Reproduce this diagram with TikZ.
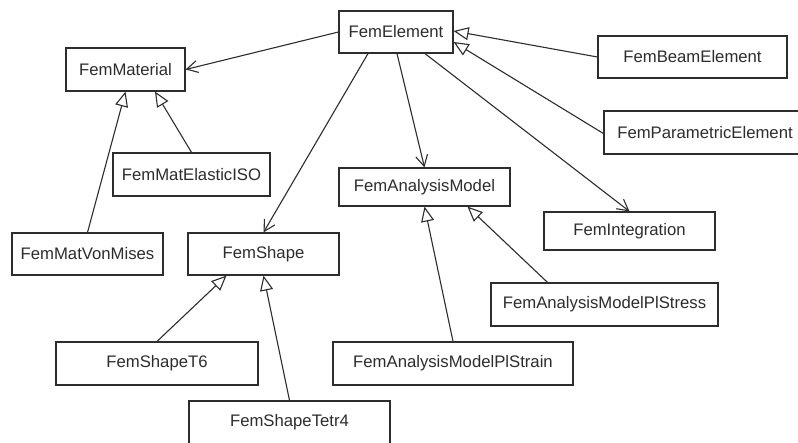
\documentclass[tikz,border=0pt]{standalone}
\usepackage{fontspec}
\setmainfont{Liberation Sans}
\usetikzlibrary{arrows.meta}
\definecolor{ink}{RGB}{45,45,45}
\tikzset{
  cls/.style={draw=ink, line width=1.2pt, fill=white, text=ink, inner sep=0pt,
    font=\fontsize{16.7}{20}\selectfont},
  inherit/.style={draw=ink, line width=1.1pt, -{Triangle[open, length=15pt, width=13pt, fill=white]}},
  assoc/.style={draw=ink, line width=1.1pt, -{Straight Barb[length=11pt, width=12pt]}},
}
\begin{document}
\begin{tikzpicture}[x=1pt, y=-1pt]
\useasboundingbox (0,0) rectangle (798,442);
\clip (0,0) rectangle (798,442);
\fill[white] (0,0) rectangle (798,442);
% classes
\node[cls, minimum width=114pt, minimum height=42pt] (el) at (396,32) {FemElement};
\node[cls, minimum width=119pt, minimum height=43pt] (mat) at (125.5,69.5) {FemMaterial};
\node[cls, minimum width=157pt, minimum height=43pt] (iso) at (191.5,174.5) {FemMatElasticISO};
\node[cls, minimum width=171pt, minimum height=38pt] (am) at (424.5,187) {FemAnalysisModel};
\node[cls, minimum width=189pt, minimum height=42pt] (beam) at (692.5,57) {FemBeamElement};
\node[cls, minimum width=202pt, minimum height=43pt] (par) at (705,132.5) {FemParametricElement};
\node[cls, minimum width=171pt, minimum height=38pt] (integ) at (629.5,231) {FemIntegration};
\node[cls, minimum width=151pt, minimum height=42pt] (vm) at (87.5,254) {FemMatVonMises};
\node[cls, minimum width=151pt, minimum height=42pt] (shape) at (263.5,254) {FemShape};
\node[cls, minimum width=202pt, minimum height=43pt] (t6) at (157,363.5) {FemShapeT6};
\node[cls, minimum width=201pt, minimum height=43pt] (tetr) at (289.5,422.5) {FemShapeTetr4};
\node[cls, minimum width=240pt, minimum height=43pt] (plstrain) at (453,363.5) {FemAnalysisModelPlStrain};
\node[cls, minimum width=227pt, minimum height=43pt] (plstress) at (604.5,304.5) {FemAnalysisModelPlStress};
% associations
\draw[assoc] (el.west) -- (mat.east);
\draw[assoc] ([xshift=-28pt]el.south) -- (shape.north);
\draw[assoc] ([xshift=1pt]el.south) -- (am.north);
\draw[assoc] ([xshift=29pt]el.south) -- (integ.north);
% inheritance
\draw[inherit] (beam.west) -- ([yshift=1pt]el.east);
\draw[inherit] ([yshift=-1pt]par.west) -- ([yshift=-10pt]el.east);
\draw[inherit] (iso.north) -- ([xshift=29.5pt]mat.south);
\draw[inherit] (vm.north) -- (mat.south);
\draw[inherit] (t6.north) -- ([xshift=-37pt]shape.south);
\draw[inherit] (tetr.north) -- (shape.south);
\draw[inherit] (plstrain.north) -- (am.south);
\draw[inherit] ([xshift=-57pt]plstress.north) -- ([xshift=43pt]am.south);
\end{tikzpicture}
\end{document}
